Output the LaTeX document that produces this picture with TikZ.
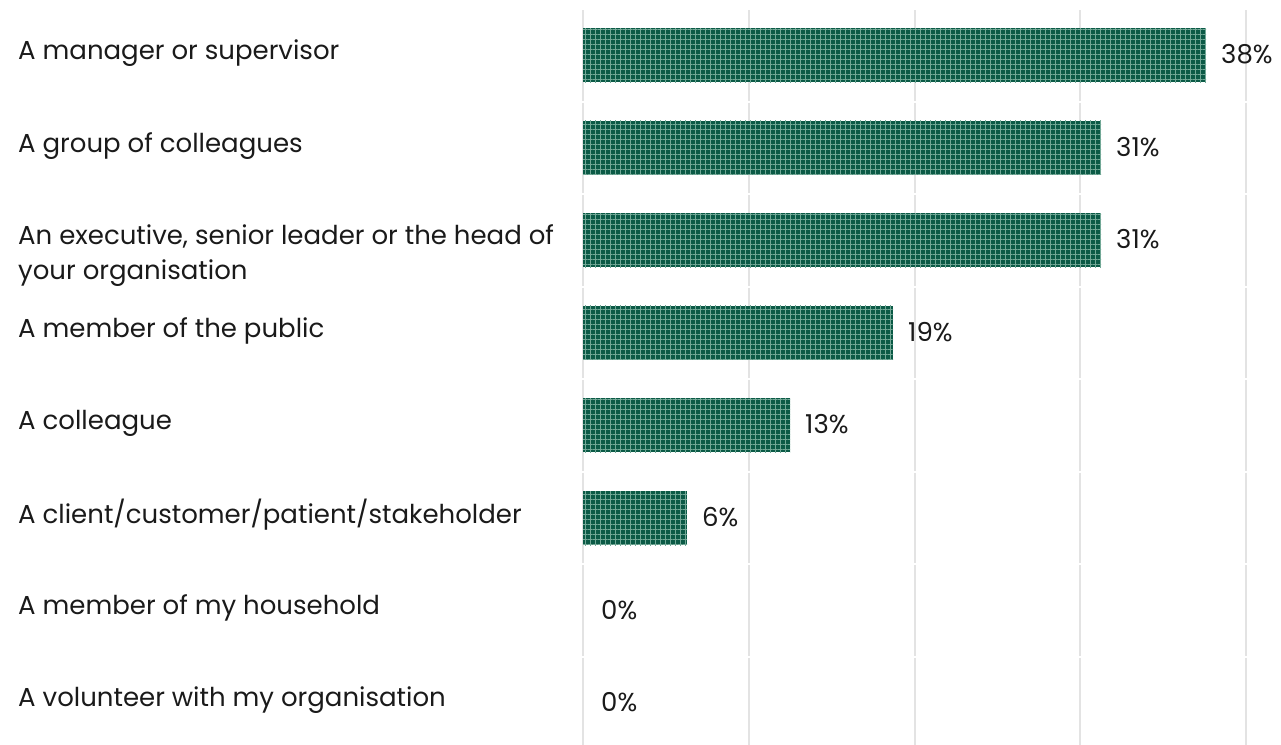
\documentclass[tikz,border=0pt]{standalone}
\usepackage{fontspec}
\setmainfont{Poppins}
\usetikzlibrary{patterns.meta}
\definecolor{bargreen}{HTML}{0B5A46}
\definecolor{barline}{HTML}{72A896}
\definecolor{gridgray}{HTML}{E3E3E3}
\definecolor{txt}{HTML}{1A1A1A}
\tikzset{
  lbl/.style={anchor=west, inner sep=0pt, font=\fontsize{26}{35}\selectfont, text=txt, align=left},
  val/.style={anchor=west, inner sep=0pt, font=\fontsize{26}{30}\selectfont, text=txt},
  barbox/.style={fill=bargreen, draw=none},
  gridln/.style={draw=gridgray, line width=2pt},
}
\begin{document}
\begin{tikzpicture}[x=1pt,y=-1pt]
\useasboundingbox (0,0) rectangle (1281,744);
% gridlines per row
\foreach \gx in {583,749,915,1080,1246}{
  \foreach \r in {0,...,7}{
    \pgfmathsetmacro{\ya}{9+92.5*\r+1}
    \pgfmathsetmacro{\yb}{9+92.5*(\r+1)-1}
    \draw[gridln] (\gx,\ya) -- (\gx,\yb);
  }
}
% bars
\foreach \r/\e/\v in {0/1206/38, 1/1101/31, 2/1101/31, 3/893/19, 4/790/13, 5/687/6}{
  \pgfmathsetmacro{\c}{55+92.6*\r}
  \path[barbox] (583,\c-27) rectangle (\e,\c+27);
  \path[pattern={Lines[angle=0,distance=5pt,line width=0.8pt]}, pattern color=barline] (583,\c-27) rectangle (\e,\c+27);
  \path[pattern={Lines[angle=90,distance=5pt,line width=0.8pt]}, pattern color=barline] (583,\c-27) rectangle (\e,\c+27);
  \node[val] (v\r) at (\e+15,\c-1) {\v\%};
}
\node[val] (v6) at (601,610) {0\%};
\node[val] (v7) at (601,702) {0\%};
% labels
\node[lbl] (l0) at (18,53) {A manager or supervisor};
\node[lbl] (l1) at (18,146) {A group of colleagues};
\node[lbl] (l2) at (18,255.5) {An executive, senior leader or the head of\\your organisation};
\node[lbl] (l3) at (18,331) {A member of the public};
\node[lbl] (l4) at (18,423) {A colleague};
\node[lbl] (l5) at (18,515) {A client/customer/patient/stakeholder};
\node[lbl] (l6) at (18,608) {A member of my household};
\node[lbl] (l7) at (18,700) {A volunteer with my organisation};
\end{tikzpicture}
\end{document}
